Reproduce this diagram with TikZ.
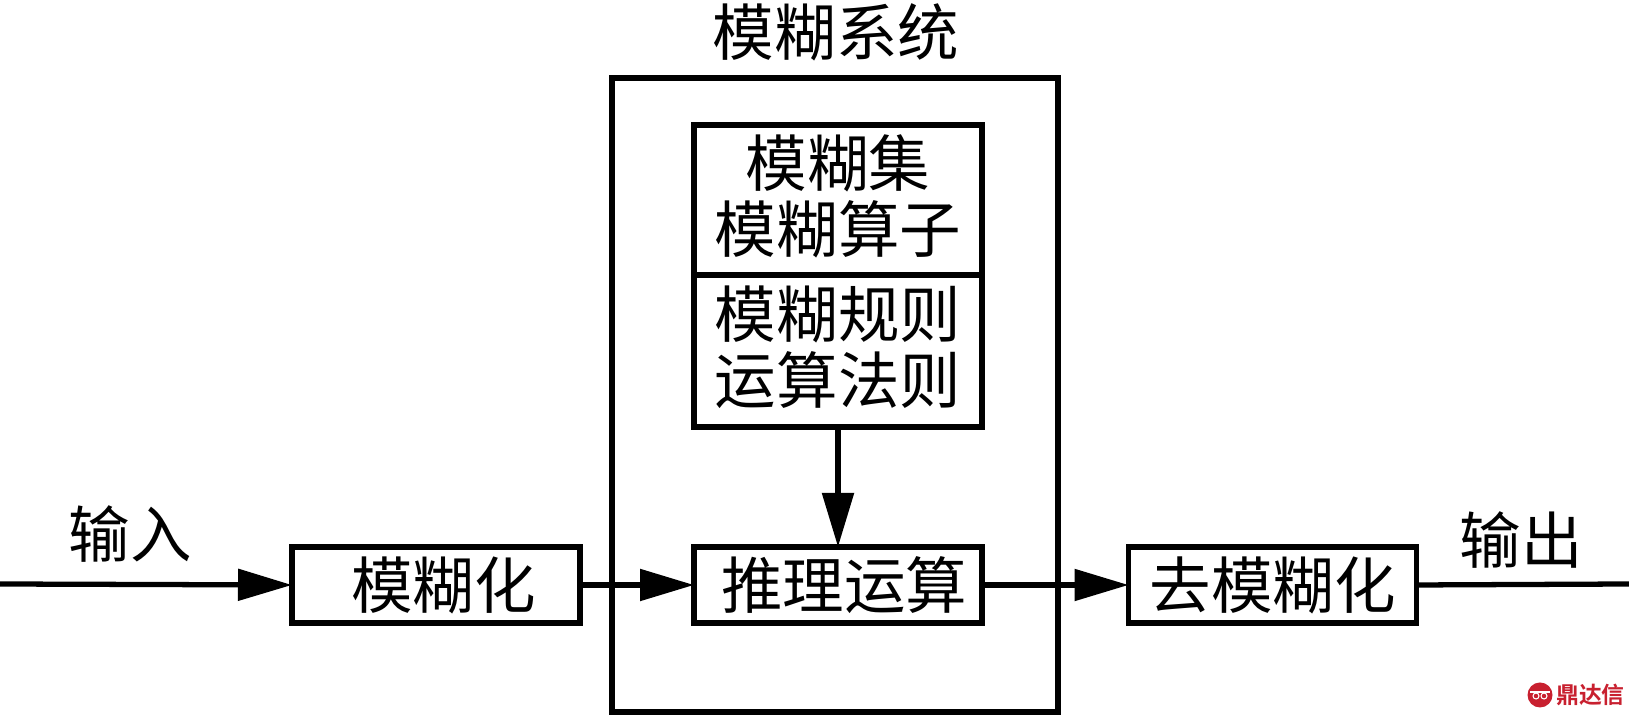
\documentclass[tikz,border=0pt]{standalone}
\usepackage{fontspec}
\usepackage{tikz}
\usetikzlibrary{arrows.meta}
\newfontfamily\cjk{Noto Sans CJK SC}
\newfontfamily\cjkbold{Noto Sans CJK SC Bold}
\definecolor{markred}{HTML}{C8202F}
\newcommand{\liftline}[1]{\raisebox{0.07cm}[\height][\depth]{#1}}
\tikzset{
    box/.style={draw, line width=3pt, outer sep=0pt, inner sep=0pt, font=\cjk\fontsize{35}{37.8}\selectfont, align=center, minimum width=5.76cm},
    flow/.style={line width=3pt, -{Triangle[length=1.08cm, width=0.62cm]}},
    plain/.style={line width=3pt},
    caption/.style={font=\cjk\fontsize{35}{37.8}\selectfont, inner sep=0pt}
}

\begin{document}
\begin{tikzpicture}
    \useasboundingbox (0,0) rectangle (32.58,14.3);
    \def\flowY{2.62}

    \node [box, minimum width=8.92cm, minimum height=12.68cm] (system) at (16.7,6.4){};
    \node [caption] (systemtitle) at (16.72,13.66){模糊系统};

    \node [box, minimum height=3cm] (sets) at (16.76,10.3){\liftline{模糊集}\\\liftline{模糊算子}};
    \node [box, minimum height=3.04cm] (rules) at (16.76,7.28){\liftline{模糊规则}\\\liftline{运算法则}};

    \node [box, minimum height=1.52cm] (fuzzify) at (8.72,2.6){\hspace*{0.3cm}模糊化};
    \node [box, minimum height=1.52cm] (infer) at (16.76,2.6){\hspace*{0.25cm}推理运算};
    \node [box, minimum height=1.52cm] (defuzzify) at (25.45,2.6){去模糊化};

    \coordinate (infrom) at (0,\flowY);
    \coordinate (outto) at (32.58,\flowY);

    \draw [flow] (infrom) -- (fuzzify.west);
    \draw [flow] (fuzzify.east) -- (infer.west);
    \draw [flow] (infer.east) -- (defuzzify.west);
    \draw [plain] (defuzzify.east) -- (outto);
    \draw [flow] (rules.south) -- (infer.north);

    \node [caption] (inlabel) at (2.6,3.62){输入};
    \node [caption] (outlabel) at (30.42,3.5){输出};

    % mark in the corner
    \node [circle, fill=markred, minimum size=0.5cm, inner sep=0pt] (markdot) at (30.8,0.4){};
    \draw [white, line width=0.6pt] ([xshift=-0.2cm,yshift=0.06cm]markdot.center) -- ([xshift=0.2cm,yshift=0.06cm]markdot.center);
    \draw [white, line width=0.6pt] ([xshift=-0.08cm,yshift=-0.02cm]markdot.center) circle [radius=0.06];
    \draw [white, line width=0.6pt] ([xshift=0.08cm,yshift=-0.02cm]markdot.center) circle [radius=0.06];
    \node [inner sep=0pt, text=markred, font=\cjkbold\fontsize{13}{14}\selectfont, anchor=west, xshift=0.06cm] (marktext) at (markdot.east){鼎达信};
\end{tikzpicture}
\end{document}
